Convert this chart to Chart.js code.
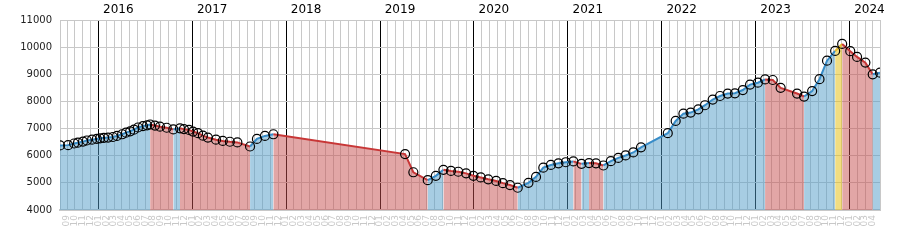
<!DOCTYPE html>
<html>
<head>
<meta charset="utf-8">
<script src="https://cdn.jsdelivr.net/npm/chart.js@4.4.1/dist/chart.umd.min.js"></script>
<style>
  body { margin: 0; background: #fff; }
</style>
</head>
<body>
<canvas id="priceChart" width="900" height="250"></canvas>
<script>
const dates = [
  "2015-08-04", "2015-09-05", "2015-09-28", "2015-10-13", "2015-11-02", "2015-11-17", "2015-12-07", "2015-12-26",
  "2016-01-08", "2016-01-23", "2016-02-08", "2016-02-26", "2016-03-13", "2016-04-02", "2016-04-17", "2016-05-03",
  "2016-05-18", "2016-06-03", "2016-06-22", "2016-07-08", "2016-07-20", "2016-08-08", "2016-08-28", "2016-09-23",
  "2016-10-19", "2016-11-14", "2016-11-29", "2016-12-19",
  "2017-01-04", "2017-01-24", "2017-02-11", "2017-03-01", "2017-04-02", "2017-04-28", "2017-05-26", "2017-06-24",
  "2017-08-13", "2017-09-09", "2017-10-10", "2017-11-12",
  "2019-04-07", "2019-05-09", "2019-07-04", "2019-08-05", "2019-09-04", "2019-10-03", "2019-11-01", "2019-12-01",
  "2019-12-30",
  "2020-01-28", "2020-02-25", "2020-03-27", "2020-04-22", "2020-05-20", "2020-06-19", "2020-07-31", "2020-08-30",
  "2020-09-27", "2020-10-27", "2020-11-25", "2020-12-24",
  "2021-01-23", "2021-02-22", "2021-03-23", "2021-04-19", "2021-05-18", "2021-06-16", "2021-07-15", "2021-08-13",
  "2021-09-12", "2021-10-12",
  "2022-01-25", "2022-02-23", "2022-03-25", "2022-04-22", "2022-05-22", "2022-06-17", "2022-07-17", "2022-08-15",
  "2022-09-14", "2022-10-12", "2022-11-12", "2022-12-10",
  "2023-01-10", "2023-02-07", "2023-03-07", "2023-04-07", "2023-06-10", "2023-07-07", "2023-08-08", "2023-09-06",
  "2023-10-05", "2023-11-06", "2023-12-03",
  "2024-01-04", "2024-01-31", "2024-03-02", "2024-03-31", "2024-04-28"
];
const values = [
  6380, 6390, 6450, 6480, 6520, 6560, 6590, 6620,
  6640, 6660, 6670, 6690, 6730, 6790, 6850, 6900,
  6960, 7040, 7090, 7120, 7150, 7110, 7070, 7030,
  6970, 7010, 6980, 6950,
  6890, 6830, 6740, 6670, 6590, 6545, 6515, 6490,
  6340, 6620, 6730, 6790,
  6060, 5390, 5100, 5260, 5480, 5440, 5410, 5350,
  5260,
  5200, 5130, 5070, 4990, 4920, 4820, 5000, 5220,
  5560, 5660, 5720, 5760,
  5790, 5700, 5730, 5720, 5640, 5800, 5920, 6010,
  6120, 6310,
  6830, 7280, 7550, 7590, 7710, 7860, 8070, 8200,
  8290, 8300, 8420, 8620,
  8690, 8810, 8790, 8500, 8290, 8180, 8380, 8820,
  9500, 9860, 10120,
  9850, 9640, 9430, 9000, 9060
];
const years = [2016, 2017, 2018, 2019, 2020, 2021, 2022, 2023, 2024];
const yTicks = [4000, 5000, 6000, 7000, 8000, 9000, 10000, 11000];

// months counted from Jan 2015, with the day as a fraction
const toMonth = (s) => {
  const [y, m, d] = s.split("-").map(Number);
  const dim = new Date(y, m, 0).getDate();
  return (y - 2015) * 12 + (m - 1) + (d - 1) / dim;
};

const points = dates.map((d, i) => ({ x: toMonth(d), y: values[i] }));
const xMin = points[0].x;
const xMax = points[points.length - 1].x;
const peak = Math.max(...values);

const lineColors = { up: "#378cc8", down: "#c83737", peak: "#e6b82a" };
const fillColors = { up: "rgba(80,155,200,0.5)", down: "rgba(197,77,77,0.5)", peak: "rgba(229,193,25,0.55)" };

// colour a segment by its direction, the one reaching the top in yellow
const segColor = (ctx, set) => {
  const a = ctx.p0.parsed.y;
  const b = ctx.p1.parsed.y;
  if (b === peak) return set.peak;
  return b >= a ? set.up : set.down;
};

Chart.defaults.font.family = "'DejaVu Sans', sans-serif";

const config = {
  type: "line",
  data: {
    datasets: [
      {
        data: points,
        fill: "start",
        borderWidth: 2,
        borderColor: lineColors.up,
        backgroundColor: fillColors.up,
        pointRadius: 4.5,
        pointBorderWidth: 1.2,
        pointBorderColor: "#000",
        pointBackgroundColor: "rgba(255,255,255,0)",
        segment: {
          borderColor: (ctx) => segColor(ctx, lineColors),
          backgroundColor: (ctx) => segColor(ctx, fillColors),
        },
      },
    ],
  },
  options: {
    responsive: false,
    animation: false,
    layout: { padding: { left: 0, right: 20, top: 0, bottom: 0 } },
    plugins: {
      legend: { display: false },
      tooltip: { enabled: false },
    },
    scales: {
      x: {
        type: "linear",
        position: "bottom",
        min: xMin,
        max: xMax,
        afterBuildTicks: (axis) => {
          const ticks = [];
          for (let t = Math.ceil(xMin); t <= Math.floor(xMax); t++) ticks.push({ value: t });
          axis.ticks = ticks;
        },
        afterFit: (axis) => {
          axis.height = 40;
        },
        ticks: {
          autoSkip: false,
          minRotation: 90,
          maxRotation: 90,
          padding: 5,
          color: "#c8c8c8",
          font: { size: 9 },
          callback: (v) => String((Math.round(v) % 12) + 1).padStart(2, "0"),
        },
        grid: {
          drawTicks: false,
          color: (ctx) => (ctx.tick && Math.round(ctx.tick.value) % 12 === 0 ? "#000" : "#c8c8c8"),
        },
        border: { color: "#c8c8c8", width: 2 },
      },
      years: {
        type: "linear",
        position: "top",
        min: xMin,
        max: xMax,
        afterBuildTicks: (axis) => {
          axis.ticks = years.map((y) => ({ value: (y - 2015) * 12 + 0.6 }));
        },
        afterFit: (axis) => {
          axis.height = 20;
        },
        ticks: {
          autoSkip: false,
          maxRotation: 0,
          align: "start",
          padding: 3,
          color: "#000",
          font: { size: 12 },
          callback: (v) => String(2015 + Math.floor(v / 12)),
        },
        grid: { display: false, drawTicks: false },
        border: { display: false },
      },
      y: {
        min: 4000,
        max: 11000,
        afterBuildTicks: (axis) => {
          axis.ticks = yTicks.map((v) => ({ value: v }));
        },
        afterFit: (axis) => {
          axis.width = 60;
        },
        ticks: {
          padding: 8,
          color: "#222",
          font: { size: 10 },
          callback: (v) => String(v),
        },
        grid: { drawTicks: false, color: "#c8c8c8" },
        border: { color: "#c8c8c8" },
      },
      // only draws the gray frame line on the right side
      frameRight: {
        position: "right",
        min: 4000,
        max: 11000,
        afterFit: (axis) => {
          axis.width = 0;
        },
        ticks: { display: false },
        grid: { display: false, drawTicks: false },
        border: { color: "#c8c8c8" },
      },
    },
  },
};

const ctx = document.getElementById("priceChart");
const myChart = new Chart(ctx, config);
</script>
</body>
</html>
